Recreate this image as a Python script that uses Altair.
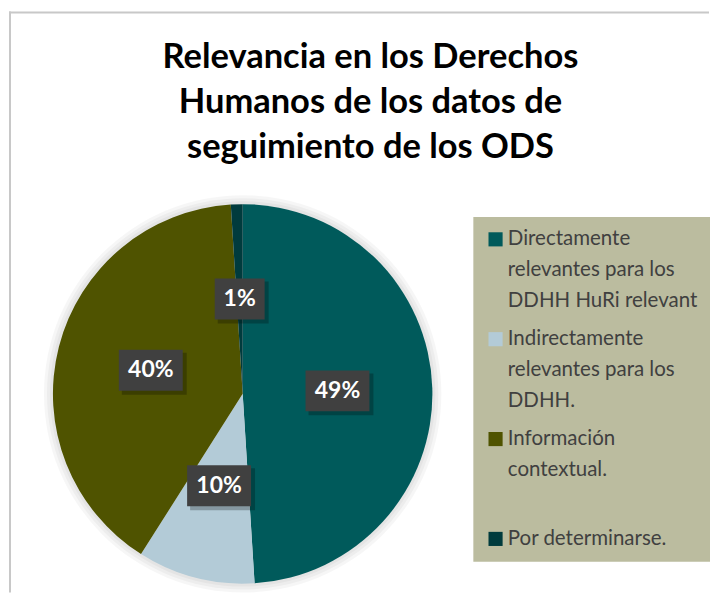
import altair as alt
import pandas as pd

# ---- data ----
categories = [
    "Directamente|relevantes para los|DDHH HuRi relevant",
    "Indirectamente|relevantes para los|DDHH.",
    "Información|contextual.| ",
    "Por determinarse.",
]
values = [49, 10, 40, 1]
colors = ["#005A5B", "#B3CBD7", "#4F5300", "#003B3D"]
title_lines = ["Relevancia en los Derechos", "Humanos de los datos de", "seguimiento de los ODS"]

W, H = 690, 582
CX, CY = 234, 383      # pie centre inside the view
R = 190                # pie radius
LR = 95                # label radius

df = pd.DataFrame({"cat": categories, "value": values, "idx": list(range(len(values)))})
one = pd.DataFrame({"k": [0]})

# frame (top and left edges visible in the reference)
top_rule = alt.Chart(one).mark_rule(color="#C8C8C8", strokeWidth=2).encode(
    x=alt.value(0), x2=alt.value(701), y=alt.value(1))
left_rule = alt.Chart(one).mark_rule(color="#C8C8C8", strokeWidth=2).encode(
    x=alt.value(1), y=alt.value(0), y2=alt.value(H))

# soft glow around the pie
glows = [
    alt.Chart(one).mark_arc(radius=R + d, theta=0, theta2=6.2832, color="black", opacity=0.035).encode(
        x=alt.value(CX), y=alt.value(CY))
    for d in (9, 6, 3)
]

pie = alt.Chart(df).mark_arc(radius=R).encode(
    theta=alt.Theta("value:Q", stack=True),
    order=alt.Order("idx:Q"),
    color=alt.Color(
        "cat:N",
        scale=alt.Scale(domain=categories, range=colors),
        legend=alt.Legend(
            title=None,
            orient="none",
            legendX=465,
            legendY=206,
            fillColor="#BBBC9F",
            padding=12,
            labelExpr="split(datum.label, '|')",
            labelFont="Lato",
            labelFontSize=20.5,
            labelColor="#404040",
            labelLimit=300,
            symbolType="square",
            symbolSize=200,
            symbolStrokeWidth=0,
            symbolOpacity=1,
            rowPadding=17,
            labelOffset=2,
        ),
    ),
    x=alt.value(CX),
    y=alt.value(CY),
)

lab = (
    alt.Chart(df)
    .transform_joinaggregate(total="sum(value)")
    .transform_window(cum="sum(value)", sort=[alt.SortField("idx")], frame=[None, 0])
    .transform_calculate(
        mid="(datum.cum - datum.value/2) / datum.total * 2 * PI",
        label="format(datum.value / datum.total, '.0%')",
    )
    .transform_calculate(
        px=f"{CX} + {LR} * sin(datum.mid)",
        py=f"{CY} - {LR} * cos(datum.mid)",
        w="22 + 14 * length(datum.label)",
    )
    .transform_calculate(
        x1="datum.px - datum.w/2",
        x2="datum.px + datum.w/2",
        y1="datum.py - 20.5",
        y2="datum.py + 20.5",
        sx1="datum.px - datum.w/2 + 3",
        sx2="datum.px + datum.w/2 + 4",
        sy1="datum.py - 20.5 + 3",
        sy2="datum.py + 20.5 + 4",
    )
)

box_shadow = lab.mark_rect(color="black", opacity=0.25).encode(
    x=alt.X("sx1:Q", scale=None, axis=None), x2="sx2:Q",
    y=alt.Y("sy1:Q", scale=None, axis=None), y2="sy2:Q")
boxes = lab.mark_rect(color="#404040").encode(
    x=alt.X("x1:Q", scale=None, axis=None), x2="x2:Q",
    y=alt.Y("y1:Q", scale=None, axis=None), y2="y2:Q")
texts = lab.mark_text(font="Lato", fontSize=23, fontWeight="bold", color="white",
                      align="center", baseline="middle").encode(
    x=alt.X("px:Q", scale=None, axis=None),
    y=alt.Y("py:Q", scale=None, axis=None),
    text="label:N")

title = alt.Chart(one).mark_text(font="Lato", fontSize=34.5, fontWeight="bold", color="black",
                                 align="center", baseline="middle", lineHeight=45).encode(
    text=alt.value(title_lines), x=alt.value(362), y=alt.value(47))

chart = alt.layer(top_rule, left_rule, *glows, pie, box_shadow, boxes, texts, title).properties(
    width=W, height=H,
    padding={"left": 0, "top": 2, "right": 0, "bottom": 0},
).configure(
    background="white",
    style={"guide-label": {"lineHeight": 31}},
).configure_view(stroke=None)

chart.save("out.html", embed_options={"renderer": "svg", "actions": False})
